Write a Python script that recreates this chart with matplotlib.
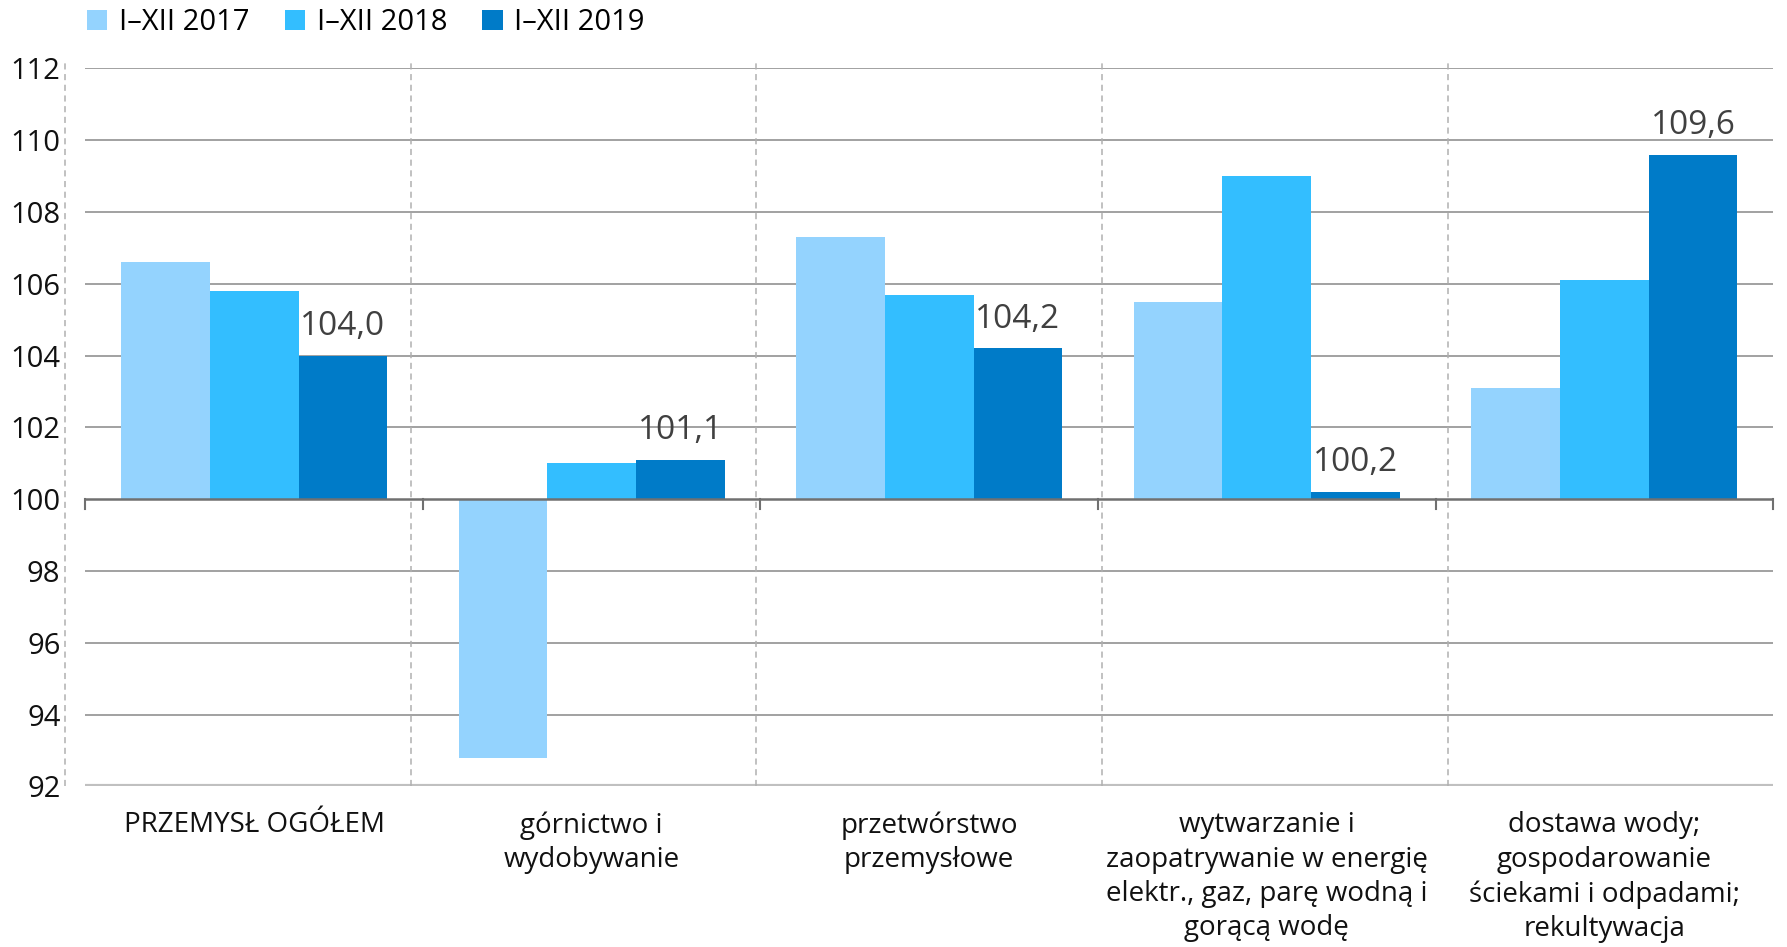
import numpy as np
import matplotlib.pyplot as plt

plt.rcParams['font.family'] = ['Open Sans', 'DejaVu Sans']

categories = ['PRZEMYSŁ OGÓŁEM',
              'górnictwo i\nwydobywanie',
              'przetwórstwo\nprzemysłowe',
              'wytwarzanie i\nzaopatrywanie w energię\nelektr., gaz, parę wodną i\ngorącą wodę',
              'dostawa wody;\ngospodarowanie\nściekami i odpadami;\nrekultywacja']
series = ['I–XII 2017', 'I–XII 2018', 'I–XII 2019']
v2017 = [106.6, 92.8, 107.3, 105.5, 103.1]
v2018 = [105.8, 101.0, 105.7, 109.0, 106.1]
v2019 = [104.0, 101.1, 104.2, 100.2, 109.6]
colors = ['#94D3FE', '#33BEFF', '#007BC8']

base = 100
fig = plt.figure(figsize=(17.87, 9.47), dpi=100)
ax = fig.add_axes([0.0478, 0.1696, 0.9444, 0.7582])

x = np.arange(len(categories))
w = 0.263
for i, (vals, c, lab) in enumerate(zip([v2017, v2018, v2019], colors, series)):
    h = np.array(vals) - base
    bars = ax.bar(x + (i - 1) * w, h, w, bottom=base, color=c, label=lab, zorder=3)
    if i == 2:
        for b, v in zip(bars, vals):
            ax.text(b.get_x() + b.get_width() / 2, v + 0.35, f'{v:.1f}'.replace('.', ','),
                    ha='center', va='bottom', fontsize=24, color='#404040', zorder=4)

ax.set_xlim(-0.5, 4.5)
ax.set_ylim(92, 112)
ax.set_yticks(np.arange(92, 113, 2))
for y in np.arange(94, 113, 2):
    if y != base:
        ax.axhline(y, color='#9a9a9a', lw=1.3, zorder=1)
ax.axhline(base, color='#707070', lw=1.8, zorder=4)
ax.axhline(92, color='#c0c0c0', lw=3, zorder=2)
for t in np.arange(-0.5, 4.6, 1):
    ax.plot([t, t], [base, base - 0.28], color='#707070', lw=1.5, zorder=4, clip_on=False)

# dashed separators of category columns
for s in -0.56 + 1.024 * np.arange(5):
    ax.plot([s, s], [92, 112.2], color='#b0b0b0', lw=1.1, ls=(0, (4, 3)), zorder=2, clip_on=False)

for sp in ax.spines.values():
    sp.set_visible(False)
ax.tick_params(axis='y', length=0, labelsize=21, pad=18, labelcolor='#111111')
ax.tick_params(axis='x', length=0, labelsize=20, pad=18, labelcolor='#111111')
ax.set_xticks(x)
ax.set_xticklabels(categories, linespacing=1.3, va='top')

ax.legend(loc='upper left', bbox_to_anchor=(-0.006, 1.1), ncol=3, frameon=False, fontsize=21,
          handlelength=0.7, handleheight=0.7, handletextpad=0.4, columnspacing=1.2, borderaxespad=0)

plt.savefig('out.png', dpi=100)
